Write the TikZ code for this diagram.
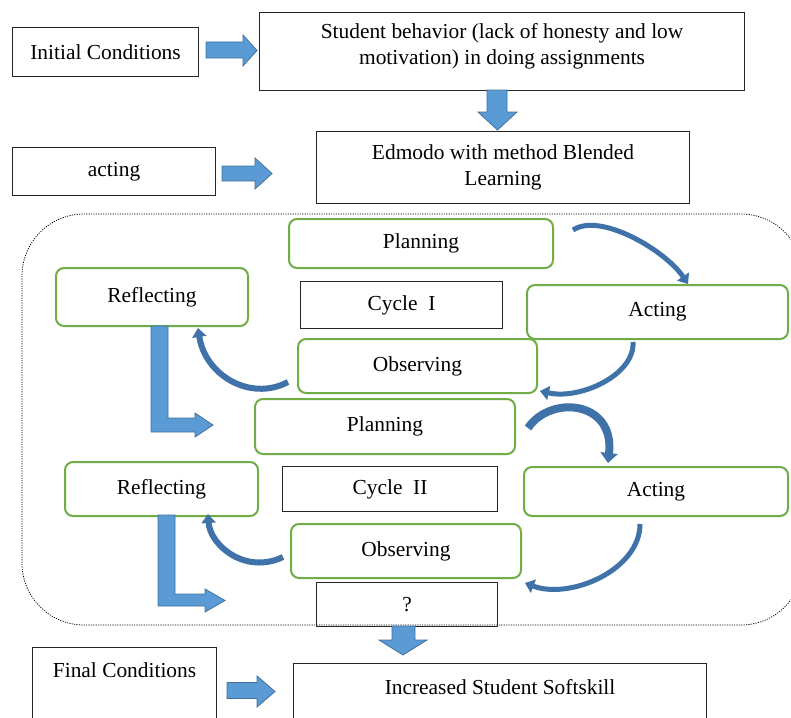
\documentclass[tikz,border=0pt]{standalone}
\usepackage{fontspec}
\setmainfont{Liberation Serif}
\usetikzlibrary{arrows.meta}
\definecolor{gbox}{HTML}{70AD47}
\definecolor{barrow}{HTML}{5B9BD5}
\definecolor{barrowd}{HTML}{41719C}
\definecolor{carrow}{HTML}{3F72A8}
\begin{document}
\begin{tikzpicture}[x=1pt,y=-1pt,
  every node/.style={font=\fontsize{21.4}{25.7}\selectfont, inner sep=0pt},
  bbox/.style={draw=black!85, line width=1.1pt, anchor=north west},
  gbx/.style={draw=gbox, line width=2pt, rounded corners=8pt, anchor=north west},
  curv/.style={draw=carrow, line width=5pt, -{Triangle[width=14pt,length=9pt]}},
  lblk/.style={draw=barrowd, fill=barrow, line width=0.8pt, line join=miter},
  region/.style={dash pattern=on 1.2pt off 1.2pt, line width=0.7pt, rounded corners=62pt}]
\path[use as bounding box, fill=white] (0,0) rectangle (791,717);
% top part
\node[bbox, minimum width=186, minimum height=49] (ic) at (12,27) {Initial Conditions};
\node[bbox, minimum width=485, minimum height=78] (sb) at (259,12) {};
\node[align=center] (sbt) at ([yshift=5pt]sb.center) {Student behavior (lack of honesty and low\\motivation) in doing assignments};
\node[bbox, minimum width=203, minimum height=48] (act) at (12,147) {acting};
\node[bbox, minimum width=373, minimum height=72, align=center] (ed) at (316,131) {Edmodo with method Blended\\Learning};
% block arrows
\draw[lblk] (206,42) -- (243,42) -- (243,35) -- (257,50.5) -- (243,66) -- (243,58) -- (206,58) -- cycle;
\draw[lblk] (222,166) -- (255,166) -- (255,158) -- (272,173.5) -- (255,189) -- (255,181) -- (222,181) -- cycle;
\draw[lblk] (487,90) -- (507,90) -- (507,112) -- (517,112) -- (497.5,130) -- (478,112) -- (487,112) -- cycle;
% dotted region
\draw[region] (22,214) rectangle (803,625);
% cycle I
\node[gbx, minimum width=264, minimum height=49] (p1) at (288,218) {Planning};
\node[gbx, minimum width=192, minimum height=58] (r1) at (55,267) {Reflecting};
\node[bbox, minimum width=202, minimum height=47] (c1) at (300,281) {Cycle\ \ I};
\node[gbx, minimum width=261, minimum height=54] (a1) at (526,284) {Acting};
\node[gbx, minimum width=239, minimum height=54] (o1) at (297,338) {Observing};
% cycle II
\node[gbx, minimum width=260, minimum height=55] (p2) at (254,398) {Planning};
\node[gbx, minimum width=193, minimum height=54] (r2) at (64,461) {Reflecting};
\node[bbox, minimum width=215, minimum height=45] (c2) at (282,466) {Cycle\ \ II};
\node[gbx, minimum width=264, minimum height=49] (a2) at (523,466) {Acting};
\node[gbx, minimum width=230, minimum height=54] (o2) at (290,523) {Observing};
\node[bbox, minimum width=181, minimum height=44] (q) at (316,582) {?};
% bottom
\draw[lblk] (392,626) -- (415,626) -- (415,640) -- (427,640) -- (403,655) -- (379,640) -- (392,640) -- cycle;
\node[bbox, minimum width=184, minimum height=90] (fc) at (32,647) {};
\node (fct) at ([yshift=-23pt]fc.north) {Final Conditions};
\node[bbox, minimum width=413, minimum height=80] (is) at (293,663) {};
\node (ist) at ([yshift=-24pt]is.north) {Increased Student Softskill};
\draw[lblk] (227,682.5) -- (257,682.5) -- (257,676) -- (275,691.5) -- (257,707) -- (257,698.5) -- (227,698.5) -- cycle;
% L-shaped arrows
\draw[lblk] (151,326) -- (168,326) -- (168,418) -- (195,418) -- (195,413) -- (213,425) -- (195,437) -- (195,432) -- (151,432) -- cycle;
\draw[lblk] (158,515) -- (175,515) -- (175,594) -- (205,594) -- (205,589) -- (225,600.5) -- (205,612) -- (205,606) -- (158,606) -- cycle;
% curved arrows
\draw[curv] (573,230) .. controls (600,212) and (665,250) .. (688,284);
\draw[curv] (633,342) .. controls (635,375) and (580,400) .. (540,391);
\draw[curv, line width=6pt] (288,382) .. controls (250,402) and (205,375) .. (198,328);
\draw[curv, line width=8pt, -{Triangle[width=17pt,length=10pt]}] (528,428) .. controls (550,395) and (615,400) .. (608,463);
\draw[curv] (640,524) .. controls (640,570) and (570,600) .. (525,583);
\draw[curv, line width=6pt] (283,557) .. controls (245,575) and (210,545) .. (208,514);
\end{tikzpicture}
\end{document}
